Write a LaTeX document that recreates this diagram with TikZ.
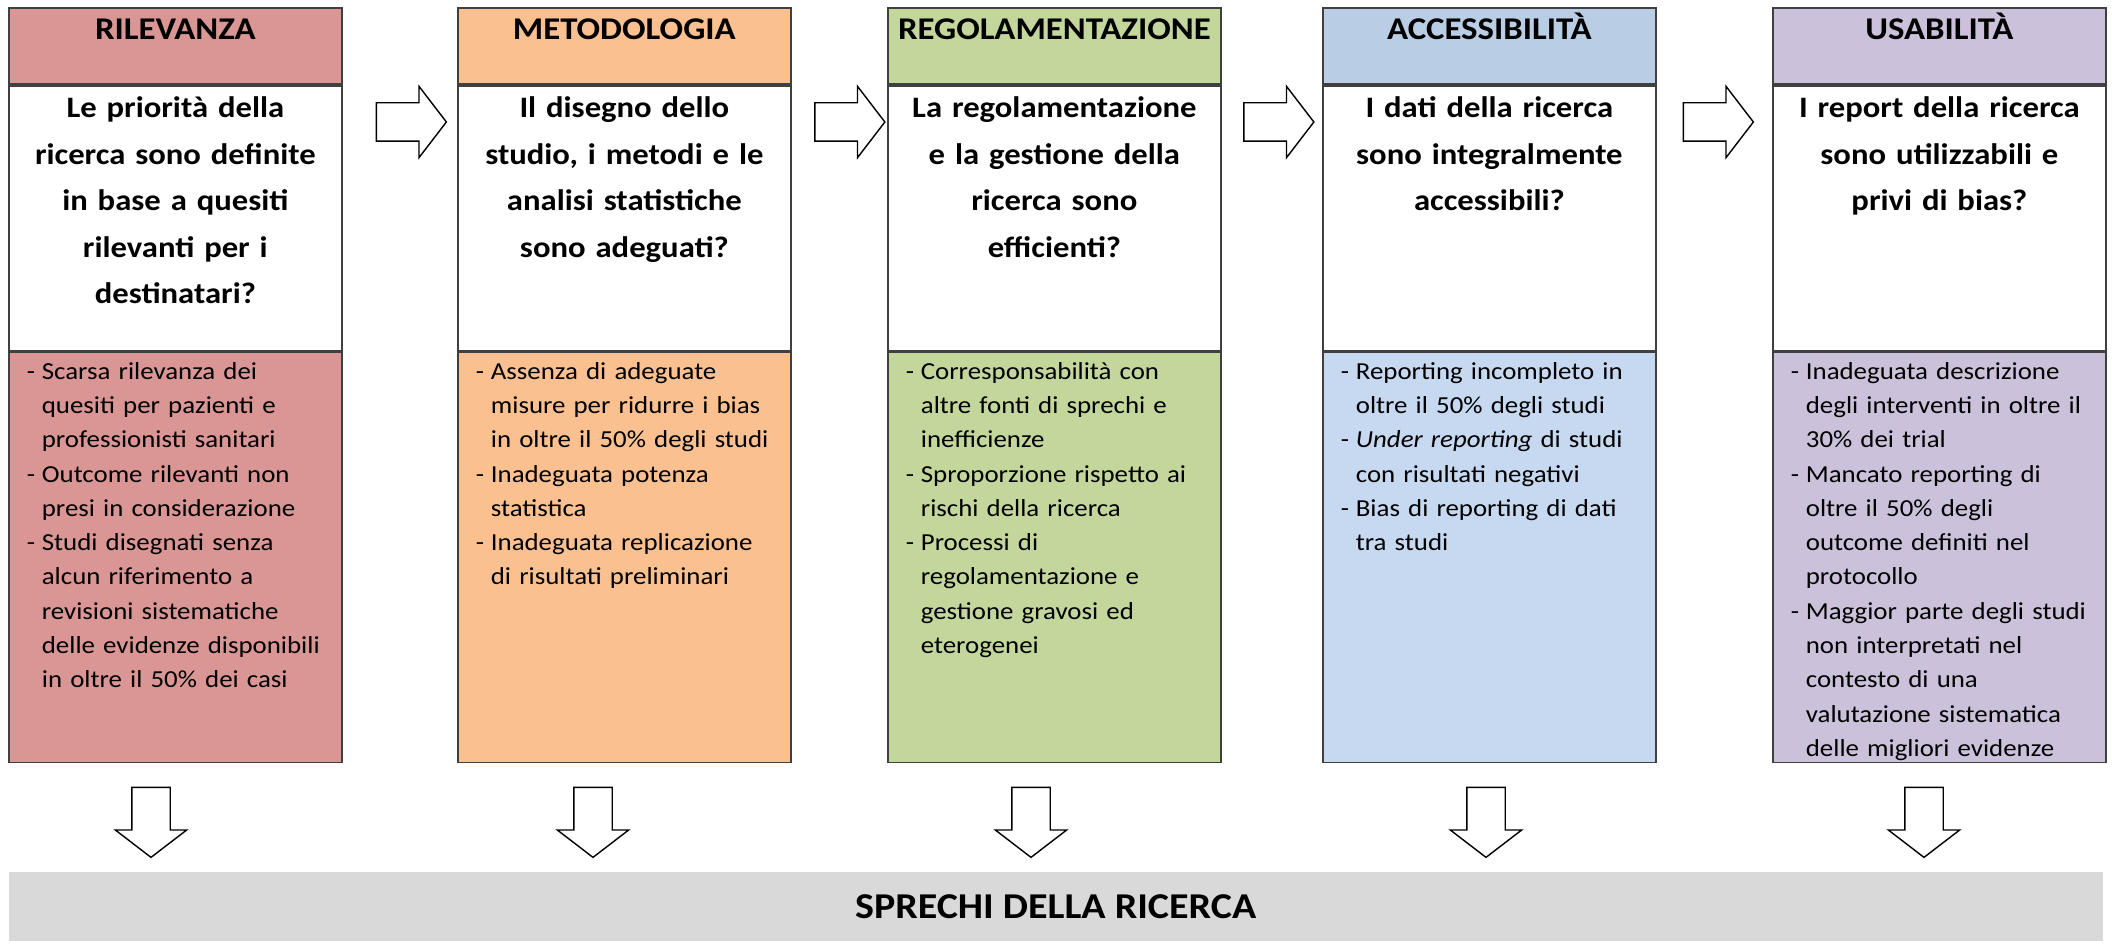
\documentclass[tikz,border=0pt]{standalone}
\usepackage{fontspec}
\setmainfont{Carlito}[FakeStretch=1.1]
\usepackage{tikz}
\usetikzlibrary{positioning, shapes.arrows}
\definecolor{myred}{RGB}{217, 150, 148}
\definecolor{myorange}{RGB}{250, 192, 144}
\definecolor{mygreen}{RGB}{195, 214, 155}
\definecolor{mybluehead}{RGB}{185, 205, 229}
\definecolor{myblue}{RGB}{198, 217, 241}
\definecolor{mypurple}{RGB}{204, 193, 218}
\definecolor{mygrey}{RGB}{217, 217, 217}
\definecolor{myline}{RGB}{64, 64, 64}

\newcommand{\voce}[1]{\hangindent=0.15cm\hangafter=1\noindent\rule{0pt}{0.27cm}\makebox[0.15cm][l]{-}#1\par}

\tikzset{
  cella/.style={rectangle, draw=myline, line width=0.5pt},
  titolo/.style={cella, text width=3.33cm, inner sep=0pt, align=center, text height=0.32cm, text depth=0.44cm, font=\bfseries\fontsize{9}{10}\selectfont},
  domanda/.style={cella, fill=white, text width=3.33cm, inner sep=0pt, align=center, text height=0.32cm, text depth=2.33cm, font=\bfseries\fontsize{8.45}{13.25}\selectfont},
  elenco/.style={cella, text width=2.97cm, inner xsep=0.18cm, inner ysep=0pt, align=left, text height=0.27cm, text depth=3.83cm, font=\fontsize{6.95}{9.75}\selectfont},
  freccia/.style={single arrow, draw=black, fill=white, line width=0.4pt, inner xsep=0pt, inner ysep=0.185cm, minimum height=0.70cm, single arrow head extend=0.165cm, single arrow tip angle=105},
}

\begin{document}
\begin{tikzpicture}[x=1cm, y=-1cm]
    \useasboundingbox (0,0) rectangle (21.12,9.47);

    % rilevanza
    \node[titolo, fill=myred, anchor=north west] (t1) at (0.08,0.07) {RILEVANZA};
    \node[domanda, below=0pt of t1] (d1) {Le priorità della\\ ricerca sono definite\\ in base a quesiti\\ rilevanti per i\\ destinatari?};
    \node[elenco, fill=myred, below=0pt of d1] (e1) {\voce{Scarsa rilevanza dei\newline quesiti per pazienti e\newline professionisti sanitari}\voce{Outcome rilevanti non\newline presi in considerazione}\voce{Studi disegnati senza\newline alcun riferimento a\newline revisioni sistematiche\newline delle evidenze disponibili\newline in oltre il 50\% dei casi}};

    % metodologia
    \node[titolo, fill=myorange, anchor=north west] (t2) at (4.57,0.07) {METODOLOGIA};
    \node[domanda, below=0pt of t2] (d2) {Il disegno dello\\ studio, i metodi e le\\ analisi statistiche\\ sono adeguati?};
    \node[elenco, fill=myorange, below=0pt of d2] (e2) {\voce{Assenza di adeguate\newline misure per ridurre i bias\newline in oltre il 50\% degli studi}\voce{Inadeguata potenza\newline statistica}\voce{Inadeguata replicazione\newline di risultati preliminari}};

    % regolamentazione
    \node[titolo, fill=mygreen, anchor=north west] (t3) at (8.87,0.07) {REGOLAMENTAZIONE};
    \node[domanda, below=0pt of t3] (d3) {La regolamentazione\\ e la gestione della\\ ricerca sono\\ efficienti?};
    \node[elenco, fill=mygreen, below=0pt of d3] (e3) {\voce{Corresponsabilità con\newline altre fonti di sprechi e\newline inefficienze}\voce{Sproporzione rispetto ai\newline rischi della ricerca}\voce{Processi di\newline regolamentazione e\newline gestione gravosi ed\newline eterogenei}};

    % accessibilita
    \node[titolo, fill=mybluehead, anchor=north west] (t4) at (13.22,0.07) {ACCESSIBILITÀ};
    \node[domanda, below=0pt of t4] (d4) {I dati della ricerca\\ sono integralmente\\ accessibili?};
    \node[elenco, fill=myblue, below=0pt of d4] (e4) {\voce{Reporting incompleto in\newline oltre il 50\% degli studi}\voce{\textit{Under reporting} di studi\newline con risultati negativi}\voce{Bias di reporting di dati\newline tra studi}};

    % usabilita
    \node[titolo, fill=mypurple, anchor=north west] (t5) at (17.72,0.07) {USABILITÀ};
    \node[domanda, below=0pt of t5] (d5) {I report della ricerca\\ sono utilizzabili e\\ privi di bias?};
    \node[elenco, fill=mypurple, below=0pt of d5] (e5) {\voce{Inadeguata descrizione\newline degli interventi in oltre il\newline 30\% dei trial}\voce{Mancato reporting di\newline oltre il 50\% degli\newline outcome definiti nel\newline protocollo}\voce{Maggior parte degli studi\newline non interpretati nel\newline contesto di una\newline valutazione sistematica\newline delle migliori evidenze}};

    % frecce tra le colonne
    \node[freccia] (a1) at (4.04,1.22) {};
    \node[freccia] (a2) at (8.425,1.22) {};
    \node[freccia] (a3) at (12.715,1.22) {};
    \node[freccia] (a4) at (17.11,1.22) {};

    % frecce verso il basso
    \node[freccia, rotate=-90] (b1) at (1.51,8.15) {};
    \node[freccia, rotate=-90] (b2) at (5.93,8.15) {};
    \node[freccia, rotate=-90] (b3) at (10.31,8.15) {};
    \node[freccia, rotate=-90] (b4) at (14.86,8.15) {};
    \node[freccia, rotate=-90] (b5) at (19.24,8.15) {};

    % sprechi
    \node[fill=mygrey, anchor=north west, minimum width=20.94cm, minimum height=0.69cm, inner sep=0pt, font=\bfseries\fontsize{10.35}{12}\selectfont] (spr) at (0.08,8.71) {SPRECHI DELLA RICERCA};
\end{tikzpicture}
\end{document}
